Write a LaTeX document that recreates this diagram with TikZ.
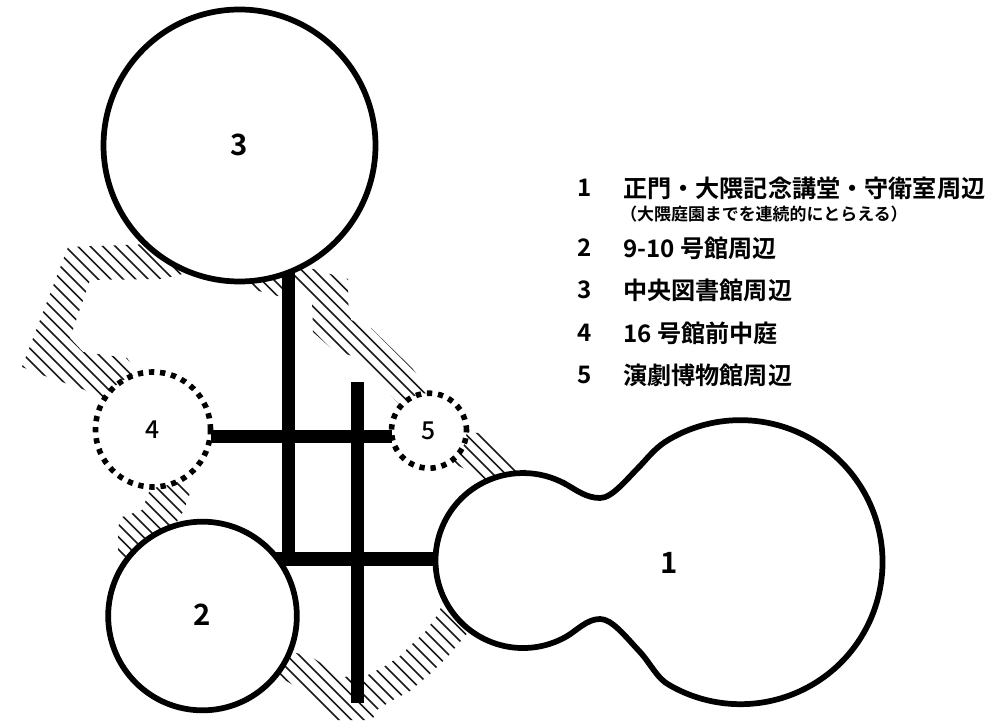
\documentclass[tikz,border=0pt]{standalone}
\usepackage{fontspec}
\usetikzlibrary{backgrounds}
\setmainfont{Noto Sans CJK JP}[BoldFont={Noto Sans CJK JP Bold}]
\newfontfamily\medfont{Noto Sans CJK JP Medium}
\tikzset{
  x=0.75pt,y=-0.75pt,
  ring/.style={circle,draw=black,line width=4.3pt,fill=white,inner sep=0pt,outer sep=0pt,font=\bfseries\fontsize{22}{24}\selectfont},
  dotring/.style={circle,draw=black,line width=4.2pt,dash pattern=on 4pt off 4.35pt,fill=white,inner sep=0pt,outer sep=0pt,font=\medfont\fontsize{18.5}{22}\selectfont},
  bar/.style={line width=10pt,black},
  hatch/.style={line width=1.1pt,black!90},
  peanut/.style={draw=black,line width=4.3pt,fill=white},
  plabel/.style={font=\bfseries\fontsize{22}{24}\selectfont,inner sep=0pt},
  legnum/.style={inner sep=0pt,font=\bfseries\fontsize{18.1}{22}\selectfont},
  legend/.style={anchor=west,inner sep=0pt,font=\bfseries\fontsize{18.1}{22}\selectfont},
  legendsub/.style={anchor=west,inner sep=0pt,font=\bfseries\fontsize{12.7}{14}\selectfont},
}
\begin{document}
\begin{tikzpicture}
\useasboundingbox (0,0) rectangle (998,720);
% rings
\node[ring,minimum size=204pt] (n3) at (239.5,145.5) {\raisebox{1.5pt}{3}};
\node[ring,minimum size=141.5pt] (n2) at (202.5,616) {\raisebox{2pt}{2}};
\node[dotring,minimum size=86.25pt] (n4) at (153,429.5) {4};
\node[dotring,minimum size=56.25pt] (n5) at (429,430.7) {5};
% lobed area
\path[peanut] (566.75,484.7)
  .. controls (577,490.7) and (587,498) .. (600,498)
  .. controls (612,498) and (626,480) .. (640,466)
  .. controls (651,454) and (657,446.4) .. (669.5,439.2)
  arc[start angle=240,end angle=480,radius=142]
  .. controls (657,678.6) and (651,664) .. (640,652)
  .. controls (625,636) and (612,619) .. (600,619)
  .. controls (587,619) and (577,630.3) .. (566.75,636.3)
  arc[start angle=60,end angle=300,radius=87.5] -- cycle;
\node[plabel] (n1) at (669,563) {1};
% junction coordinates
\coordinate (v1) at (288.3,436.7);
\coordinate (h2) at (288.3,559);
\coordinate (v2top) at (357.7,382.3);
\coordinate (v2bot) at (357.7,702.7);
% hatching and bars behind the solid circles
\begin{pgfonlayer}{background}
\begin{scope}
\clip (68,247) -- (180,243) -- (190,272) -- (175,276) -- (160,279) -- (90,280) -- (70,338) -- (83,352) -- (127,358) -- (145,385) -- (125,420) -- (85,390) -- (45,376) -- (22,367) -- cycle
      (245,283) -- (255,290) -- (278,296) -- (283,296) -- (283,275) -- cycle
      (122,517) -- (142,510) -- (149,492) -- (157,487) -- (180,480) -- (190,493) -- (184,510) -- (178,520) -- (170,530) -- (130,570) -- (118,560) -- (118,527) -- cycle
      (292,268) -- (313,269) -- (330,274) -- (348,279) -- (348,302) -- (351,320) -- (371,328) -- (412,368) -- (430,392) -- (420,420) -- (398,403) -- (383,387) -- (352,356) -- (332,349) -- (313,332) -- (312,302) -- (295,285) -- cycle
      (450,430) -- (478,433) -- (528,472) -- (490,482) -- (455,464) -- cycle
      (270,640) -- (293,652) -- (313,658) -- (343,677) -- (368,675) -- (385,666) -- (400,656) -- (413,643) -- (425,632) -- (436,617) -- (445,600) -- (470,630) -- (449,655) -- (431,673) -- (410,691) -- (393,700) -- (378,709) -- (372,720) -- (335,720) -- (325,707) -- (293,685) -- (280,677) -- cycle;
\foreach \k in {-8,...,40}{
  \pgfmathsetmacro{\c}{-19+12.5*\k}
  \draw[hatch] (0,\c) -- (760,{\c+760});
}
\end{scope}
\draw[bar] (n3.center -| v1) -- (h2);
\draw[bar] (n2.center |- h2) -- (n1 |- h2);
\draw[bar] (v2top) -- (v2bot);
\end{pgfonlayer}
% bar over the dotted rings
\draw[bar] (n4.east |- v1) -- (n5.west |- v1);
% legend
\node[legnum] (l1) at (585,188) {1};
\node[legend] (t1) at (623,188) {正門・大隈記念講堂・守衛室周辺};
\node[legendsub] (t1s) at (620,214) {（大隈庭園までを連続的にとらえる）};
\node[legnum] (l2) at (585,248) {2};
\node[legend] (t2) at (623,248) {9-10 号館周辺};
\node[legnum] (l3) at (585,290) {3};
\node[legend] (t3) at (623,290) {中央図書館周辺};
\node[legnum] (l4) at (585,333) {4};
\node[legend] (t4) at (623,333) {16 号館前中庭};
\node[legnum] (l5) at (585,375) {5};
\node[legend] (t5) at (623,375) {演劇博物館周辺};
\end{tikzpicture}
\end{document}
